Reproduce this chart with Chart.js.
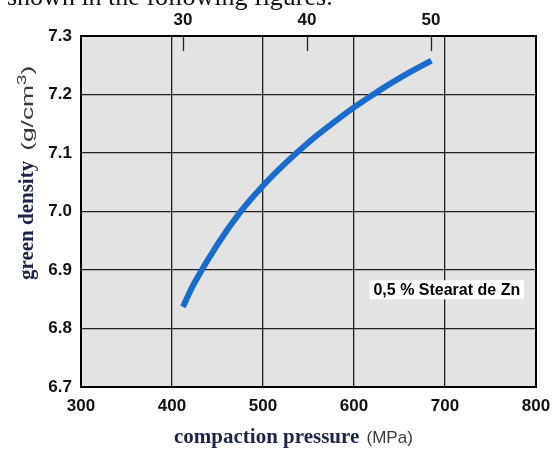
<!DOCTYPE html>
<html><head><meta charset="utf-8">
<script src="https://cdn.jsdelivr.net/npm/chart.js@4.4.1/dist/chart.umd.min.js"></script>
<style>
html,body{margin:0;padding:0;background:#fff;overflow:hidden}
#wrap{position:relative;width:552px;height:453px}
#c{position:absolute;left:0;top:0}
#top{position:absolute;left:7px;top:-16px;font:26px "Liberation Serif";line-height:26px;white-space:nowrap;color:#111;z-index:2}
</style></head>
<body><div id="wrap"><canvas id="c" width="552" height="453"></canvas><div id="top">shown in the following figures.</div></div>
<script>
const pressure = [412, 425, 450, 475, 500, 525, 550, 575, 600, 625, 650, 685];
const density  = [6.837, 6.879, 6.944, 6.999, 7.044, 7.083, 7.118, 7.149, 7.178, 7.204, 7.228, 7.258];
const xTicks = [300, 400, 500, 600, 700, 800];
const yTicks = [6.7, 6.8, 6.9, 7.0, 7.1, 7.2, 7.3];
const topTicks = [30, 40, 50];
const noteText = '0,5 % Stearat de Zn';

const framePlugin = {
  id: 'frame',
  beforeDraw(chart) {
    const {ctx, chartArea: a} = chart;
    ctx.save();
    ctx.fillStyle = '#e3e3e3';
    ctx.fillRect(a.left, a.top, a.right - a.left, a.bottom - a.top);
    ctx.restore();
  },
  afterDatasetsDraw(chart) {
    const {ctx, chartArea: a, scales} = chart;
    ctx.save();
    ctx.strokeStyle = '#222';
    ctx.lineWidth = 1.3;
    topTicks.forEach(v => {
      const px = Math.round(scales.x2.getPixelForValue(v)) + 0.5;
      ctx.beginPath(); ctx.moveTo(px, a.top); ctx.lineTo(px, a.top + 15); ctx.stroke();
    });
    ctx.strokeStyle = '#000';
    ctx.lineWidth = 2;
    ctx.strokeRect(a.left, a.top, a.right - a.left, a.bottom - a.top);
    ctx.font = 'bold 16px "Liberation Sans"';
    const w = ctx.measureText(noteText).width;
    const cx = scales.x.getPixelForValue(702), cy = scales.y.getPixelForValue(6.867);
    ctx.fillStyle = '#fff';
    ctx.fillRect(cx - w / 2 - 4, cy - 9, w + 8, 19);
    ctx.fillStyle = '#000';
    ctx.textAlign = 'center'; ctx.textBaseline = 'middle';
    ctx.fillText(noteText, cx, cy + 1);
    ctx.restore();
  },
  afterDraw(chart) {
    const {ctx} = chart;
    ctx.save();
    ctx.textBaseline = 'alphabetic';
    ctx.textAlign = 'left';
    const t1 = 'compaction pressure', t2 = '(MPa)';
    ctx.font = 'bold 21px "Liberation Serif"';
    const w1 = ctx.measureText(t1 + ' ').width;
    const x0 = 174, yb = 443;
    ctx.fillStyle = '#1c2448';
    ctx.fillText(t1, x0, yb);
    ctx.font = '17px "Liberation Sans"';
    ctx.fillStyle = '#3a3a3a';
    ctx.fillText(t2, x0 + w1 + 2, yb);
    // y title (rotated)
    ctx.translate(33, 280);
    ctx.rotate(-Math.PI / 2);
    const s1 = 'green density';
    ctx.font = 'bold 21px "Liberation Serif"';
    ctx.fillStyle = '#1c2448';
    ctx.fillText(s1, 0, 0);
    const px0 = ctx.measureText(s1).width + 10;
    ctx.translate(px0, 0);
    ctx.scale(1.55, 1);
    ctx.fillStyle = '#3a3a3a';
    ctx.font = '17px "Liberation Sans"';
    let px = 0;
    ctx.fillText('(g/cm', px, 0);
    px += ctx.measureText('(g/cm').width;
    ctx.font = '12px "Liberation Sans"';
    ctx.fillText('3', px, -7);
    px += ctx.measureText('3').width;
    ctx.font = '17px "Liberation Sans"';
    ctx.fillText(')', px, 0);
    ctx.restore();
  }
};

new Chart(document.getElementById('c'), {
  type: 'line',
  data: {
    datasets: [{
      data: pressure.map((p, i) => ({x: p, y: density[i]})),
      borderColor: '#1a6bcc',
      borderWidth: 6,
      pointRadius: 0,
      tension: 0.4,
      fill: false,
      borderCapStyle: 'butt'
    }]
  },
  options: {
    responsive: false,
    animation: false,
    layout: {padding: {left: 0, right: 16, top: 0, bottom: 0}},
    plugins: {legend: {display: false}, tooltip: {enabled: false}},
    scales: {
      x: {
        type: 'linear', position: 'bottom', min: 300, max: 800,
        afterBuildTicks: s => { s.ticks = xTicks.map(v => ({value: v})); },
        afterFit: s => { s.height = 66; s.paddingLeft = 0; s.paddingRight = 0; },
        ticks: {font: {family: 'Liberation Sans', weight: 'bold', size: 17}, color: '#111', padding: 9, maxRotation: 0, autoSkip: false},
        grid: {color: '#1e1e1e', lineWidth: 1.3, drawTicks: false},
        border: {display: false}
      },
      x2: {
        type: 'linear', position: 'top', min: 21.77, max: 58.47,
        afterBuildTicks: s => { s.ticks = topTicks.map(v => ({value: v})); },
        afterFit: s => { s.height = 36; s.paddingLeft = 0; s.paddingRight = 0; },
        ticks: {font: {family: 'Liberation Sans', weight: 'bold', size: 17}, color: '#111', padding: 5, maxRotation: 0, autoSkip: false},
        grid: {display: false, drawTicks: false},
        border: {display: false}
      },
      y: {
        type: 'linear', min: 6.7, max: 7.3,
        afterBuildTicks: s => { s.ticks = yTicks.map(v => ({value: v})); },
        afterFit: s => { s.width = 81; s.paddingTop = 0; s.paddingBottom = 0; },
        ticks: {font: {family: 'Liberation Sans', weight: 'bold', size: 17}, color: '#111', padding: 9, callback: v => v.toFixed(1)},
        grid: {color: '#1e1e1e', lineWidth: 1.3, drawTicks: false},
        border: {display: false}
      }
    }
  },
  plugins: [framePlugin]
});
</script>
</body></html>
